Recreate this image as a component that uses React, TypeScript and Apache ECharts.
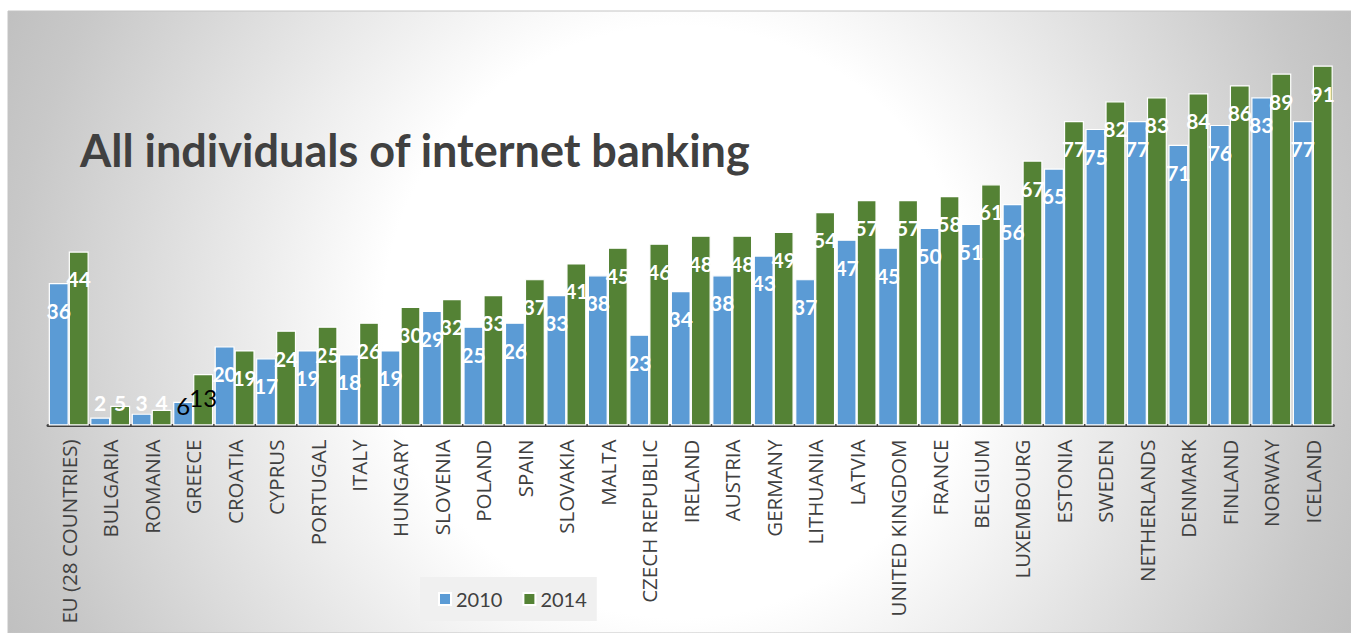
import React, { useEffect, useRef } from "react";
import * as echarts from "echarts";

const categories = [
  "EU (28 COUNTRIES)", "BULGARIA", "ROMANIA", "GREECE", "CROATIA", "CYPRUS", "PORTUGAL",
  "ITALY", "HUNGARY", "SLOVENIA", "POLAND", "SPAIN", "SLOVAKIA", "MALTA", "CZECH REPUBLIC",
  "IRELAND", "AUSTRIA", "GERMANY", "LITHUANIA", "LATVIA", "UNITED KINGDOM", "FRANCE",
  "BELGIUM", "LUXEMBOURG", "ESTONIA", "SWEDEN", "NETHERLANDS", "DENMARK", "FINLAND",
  "NORWAY", "ICELAND",
];
const values2010 = [36, 2, 3, 6, 20, 17, 19, 18, 19, 29, 25, 26, 33, 38, 23, 34, 38, 43, 37, 47, 45, 50, 51, 56, 65, 75, 77, 71, 76, 83, 77];
const values2014 = [44, 5, 4, 13, 19, 24, 25, 26, 30, 32, 33, 37, 41, 45, 46, 48, 48, 49, 54, 57, 57, 58, 61, 67, 77, 82, 83, 84, 86, 89, 91];
const seriesNames = ["2010", "2014"];
const seriesColors = ["#5b9bd5", "#548235"];
const titleText = "All individuals of internet banking";
const specialCategory = "GREECE";

function buildData(values: number[], seriesIdx: number) {
  return values.map((v, i) => {
    if (categories[i] === specialCategory) {
      return {
        value: v,
        label: seriesIdx === 0
          ? { position: "insideBottom", distance: 8, color: "#000", fontWeight: "normal", fontSize: 24 }
          : { position: "insideTop", distance: 11, color: "#000", fontWeight: "normal", fontSize: 24 },
      };
    }
    if (v < 13) {
      return { value: v, label: { position: "insideBottom", distance: 13 } };
    }
    return { value: v };
  });
}

export default function App() {
  const ref = useRef<HTMLDivElement>(null);
  useEffect(() => {
    document.body.style.margin = "0";
    document.body.style.overflow = "hidden";
    if (!ref.current) return;
    const chart = echarts.init(ref.current, null, { renderer: "svg" });
    const labelBase = {
      show: true,
      position: "insideTop",
      distance: 17,
      color: "#ffffff",
      fontFamily: "Lato",
      fontWeight: "bold",
      fontSize: 21,
    };
    chart.setOption({
      animation: false,
      graphic: [
        {
          type: "rect",
          z: -10,
          silent: true,
          shape: { x: 8, y: 11, width: 1343, height: 622 },
          style: {
            fill: new echarts.graphic.RadialGradient(679, 322, 740, [
              { offset: 0, color: "#ffffff" },
              { offset: 0.4, color: "#ffffff" },
              { offset: 0.9, color: "#c8c8c8" },
              { offset: 1, color: "#c0c0c0" },
            ], true),
            stroke: "#c4c4c4",
            lineWidth: 1,
          },
        },
        {
          type: "text",
          x: 80,
          y: 127,
          z: 5,
          style: {
            text: titleText,
            fill: "#404040",
            font: "bold 45px Lato",
          },
        },
      ],
      legend: {
        data: seriesNames,
        left: 420,
        top: 577,
        backgroundColor: "#f0f0f0",
        padding: [12, 10, 12, 18],
        itemGap: 20,
        itemWidth: 12,
        itemHeight: 12,
        icon: "rect",
        textStyle: { color: "#404040", fontFamily: "Lato", fontSize: 20 },
      },
      grid: { left: 48, right: 17.5, top: 30, bottom: 207.5 },
      xAxis: {
        type: "category",
        data: categories,
        axisLine: { lineStyle: { color: "#404040", width: 3 } },
        axisTick: { show: false },
        axisLabel: {
          interval: 0,
          rotate: 90,
          margin: 14,
          color: "#404040",
          fontFamily: "Open Sans",
          fontSize: 20.5,
        },
      },
      yAxis: { type: "value", min: 0, max: 100, show: false, splitLine: { show: false } },
      series: [values2010, values2014].map((vals, si) => ({
        name: seriesNames[si],
        type: "bar",
        barWidth: 20,
        barGap: "0%",
        itemStyle: { color: seriesColors[si], borderColor: "#ffffff", borderWidth: 1.2 },
        label: labelBase,
        data: buildData(vals, si),
      })),
    });
    return () => chart.dispose();
  }, []);
  return <div ref={ref} style={{ width: 1351, height: 633 }} />;
}
